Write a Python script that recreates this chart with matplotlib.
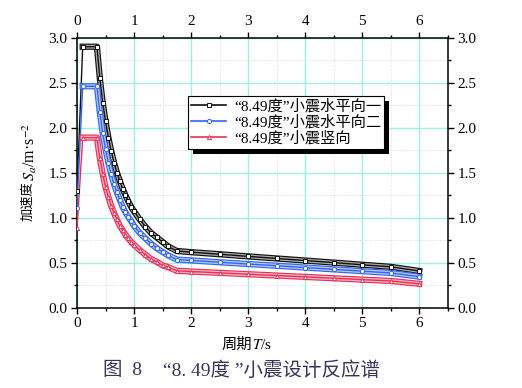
import matplotlib
matplotlib.use("Agg")
import matplotlib.pyplot as plt
import matplotlib.patheffects as pe
from matplotlib.patches import Rectangle
from matplotlib.lines import Line2D
from matplotlib.ticker import MultipleLocator, FormatStrFormatter

plt.rcParams['font.family'] = ['Liberation Serif', 'Noto Sans CJK SC']
plt.rcParams['mathtext.fontset'] = 'stix'

# period T (s)
T = [0.0, 0.1, 0.35, 0.40, 0.45, 0.50, 0.55, 0.60, 0.65, 0.70, 0.75, 0.80, 0.85,
     0.90, 0.95, 1.00, 1.10, 1.20, 1.30, 1.40, 1.50, 1.60, 1.75,
     2.0, 2.5, 3.0, 3.5, 4.0, 4.5, 5.0, 5.5, 6.0]

# spectral acceleration (m/s^2)
horiz1 = [1.30, 2.90, 2.90, 2.55, 2.28, 2.07, 1.89, 1.74, 1.61, 1.50, 1.41, 1.32, 1.25,
          1.18, 1.12, 1.07, 0.98, 0.90, 0.83, 0.78, 0.73, 0.68, 0.63,
          0.617, 0.594, 0.570, 0.547, 0.524, 0.501, 0.477, 0.454, 0.408]
horiz2 = [1.11, 2.46, 2.46, 2.17, 1.94, 1.76, 1.61, 1.48, 1.37, 1.28, 1.20, 1.12, 1.06,
          1.01, 0.96, 0.91, 0.83, 0.77, 0.71, 0.66, 0.62, 0.58, 0.535,
          0.525, 0.505, 0.485, 0.466, 0.446, 0.426, 0.406, 0.386, 0.345]
vert = [0.88, 1.89, 1.89, 1.66, 1.49, 1.34, 1.23, 1.13, 1.05, 0.98, 0.91, 0.86, 0.81,
        0.77, 0.73, 0.70, 0.64, 0.59, 0.54, 0.51, 0.47, 0.45, 0.41,
        0.402, 0.387, 0.372, 0.357, 0.342, 0.327, 0.312, 0.297, 0.265]

labels = ['“8.49度”小震水平向一', '“8.49度”小震水平向二', '“8.49度”小震竖向']
colors = ['#111111', '#3366ee', '#e8305a']
lights = ['#aaaaaa', '#b8c8f4', '#f4b8c6']
markers = ['s', 'o', '^']

fig = plt.figure(figsize=(5.22, 3.88), dpi=100)
ax = fig.add_axes([0.1475, 0.207, 0.7102, 0.6958])

series = [horiz1, horiz2, vert]
handles = []
for y, c, lc, m, lab in zip(series, colors, lights, markers, labels):
    # thin rise, then dense-marker band look
    ax.plot(T[:2], y[:2], color=c, lw=1.0, zorder=3)
    ax.plot(T[1:], y[1:], color=c, lw=1.0, zorder=3,
            path_effects=[pe.Stroke(linewidth=4.5, foreground=c),
                          pe.Stroke(linewidth=2.8, foreground=lc),
                          pe.Normal()])
    ax.plot(T, y, ls='none', marker=m, ms=3.0, mfc='white', mec=c, mew=0.7, zorder=4)
    handles.append(Line2D([], [], color=c, lw=1.2, marker=m, ms=3.0, mfc='white',
                          mec=c, mew=0.7, label=lab))

ax.set_xlim(0, 6.5)
ax.set_ylim(0, 3.0)
ax.set_xticks([0, 1, 2, 3, 4, 5, 6])
ax.set_yticks([0, 0.5, 1.0, 1.5, 2.0, 2.5, 3.0])
ax.xaxis.set_minor_locator(MultipleLocator(0.5))
ax.yaxis.set_minor_locator(MultipleLocator(0.25))
ax.yaxis.set_major_formatter(FormatStrFormatter('%.1f'))

ax.grid(True, which='major', color='#9ff0dc', lw=1.0, zorder=0)
ax.grid(True, which='minor', color='#d0d0d0', lw=0.6, ls=(0, (1, 2)), zorder=0)
ax.set_axisbelow(True)

ax.tick_params(which='both', direction='out', top=True, right=True,
               labeltop=True, labelright=True, labelsize=11, pad=3, width=1)
ax.tick_params(which='major', length=4)
ax.tick_params(which='minor', length=2.5)
for s in ax.spines.values():
    s.set_linewidth(1.1)

# axis labels (Chinese part and math part drawn separately)
fig.text(0.483, 0.111, '周期', fontsize=11, ha='right', va='center')
fig.text(0.483, 0.111, '$T$/s', fontsize=11, ha='left', va='center')
fig.text(0.054, 0.534, '加速度', fontsize=9.5, rotation=90, ha='center', va='top')
fig.text(0.056, 0.534, '$S_a$/m·s$^{-2}$', fontsize=11.5, rotation=90,
         ha='center', va='bottom')

leg = ax.legend(handles=handles, loc='upper left', bbox_to_anchor=(0.30, 0.784),
                borderaxespad=0, fontsize=11, fancybox=False, edgecolor='black',
                framealpha=1, handlelength=2.3, borderpad=0.2,
                labelspacing=0.1, handletextpad=0.5)
leg.get_frame().set_linewidth(0.8)
leg.set_zorder(6)

# legend shadow
fig.canvas.draw()
bb = leg.get_window_extent()
shadow = Rectangle((bb.x0 + 5, bb.y0 - 5), bb.width, bb.height,
                   transform=None, facecolor='black', edgecolor='none', zorder=5)
ax.add_artist(shadow)

# figure caption
cap_color = '#3a3358'
fig.text(0.197, 0.045, '图  8', fontsize=14, color=cap_color, va='center')
fig.text(0.312, 0.045, '“8. 49度 ”小震设计反应谱', fontsize=14, color=cap_color,
         va='center')

fig.savefig('out.png', dpi=100)
